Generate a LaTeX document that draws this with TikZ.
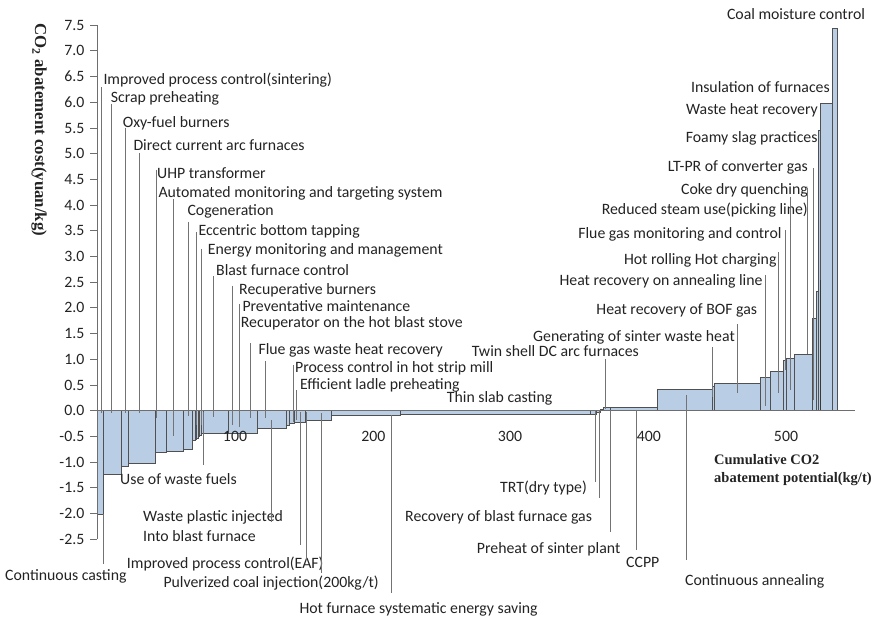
\documentclass[tikz,border=0pt]{standalone}
\usepackage{fontspec}
\setmainfont{Carlito}
\newfontfamily\serifbold{Liberation Serif}
\definecolor{barblue}{RGB}{185,205,229}
\definecolor{bargray}{RGB}{80,80,80}
\definecolor{leadgray}{RGB}{115,115,115}
\definecolor{axisgray}{RGB}{110,110,110}
\definecolor{txt}{RGB}{35,35,35}
\begin{document}
\begin{tikzpicture}[x=1pt,y=-1pt,
  bar/.style={fill=barblue,draw=bargray,line width=0.6pt},
  lead/.style={draw=leadgray,line width=0.9pt},
  lbl/.style={font=\fontsize{15.8}{18}\selectfont,inner sep=0pt,text=txt},
  lw/.style={lbl,anchor=base west},
  le/.style={lbl,anchor=base east},
  ticklbl/.style={font=\fontsize{15.8}{18}\selectfont,inner sep=0pt,text=txt},
  axtitle/.style={font=\serifbold\bfseries\fontsize{14.5}{16}\selectfont,inner sep=0pt,text=txt,anchor=base west}]
\useasboundingbox (0,0) rectangle (880,617);

% ---------- bars (negative) ----------
\foreach \a/\b/\c in {97.5/103.3/514, 103.3/121/474.5, 121/128.3/466, 128.3/155/463.3,
  155/166/452.7, 166/183.3/451.5, 183.3/192.7/449, 192.7/195/440, 195/196.5/439,
  196.5/198/438, 198/199.5/436, 199.5/201/435, 201/203.3/433.5, 203.3/228/433,
  228/257.3/433, 257.3/286.7/428.5, 286.7/289.5/425, 289.5/294/423.5, 294/305/422.7,
  305/331.7/420.3, 331.7/400/415.7, 400/590/414.5, 590/596.7/414, 596.7/600/412}
  \draw[bar] (\a,410.5) rectangle (\b,\c);
% ---------- bars (positive) ----------
\foreach \a/\b/\c in {600/603/409, 603/610/407.7, 610/657.3/407.3, 657.3/712.7/389.7,
  712.7/714/386, 714/760/383.7, 760/770/377.7, 770/783.5/371, 783.5/786.3/360,
  786.3/794.5/358.5, 794.5/812.5/354.3, 812.5/816/318.3, 816/818.3/291.7,
  818.3/820.5/130, 820.5/832/103.8, 832/837/28.3}
  \draw[bar] (\a,410.5) rectangle (\b,\c);

% ---------- axes ----------
\coordinate (yaxT) at (97,25);
\coordinate (yaxB) at (97,539.2);
\coordinate (xaxL) at (97,410.5);
\coordinate (xaxR) at (855,410.5);
\draw[axisgray,line width=0.9pt] (yaxT) -- (yaxB);
\draw[axisgray,line width=0.9pt] (xaxL) -- (xaxR);
\foreach \v/\t in {7.5/7.5,7.0/7.0,6.5/6.5,6.0/6.0,5.5/5.5,5.0/5.0,4.5/4.5,4.0/4.0,
  3.5/3.5,3.0/3.0,2.5/2.5,2.0/2.0,1.5/1.5,1.0/1.0,0.5/0.5,0/0.0,-0.5/-0.5,-1.0/-1.0,
  -1.5/-1.5,-2.0/-2.0,-2.5/-2.5}{
  \draw[axisgray,line width=0.9pt] (90,{410.7-51.4*\v}) -- (97,{410.7-51.4*\v});
  \node[ticklbl,anchor=east] (yt\t) at (84.5,{410.7-51.4*\v}) {\t};
}
\foreach \x/\t in {235/100,373.3/200,510/300,648.8/400,786/500}
  \node[ticklbl,anchor=base] (xt\t) at (\x,441.7) {\t};

\node[font=\serifbold\bfseries\fontsize{16.8}{18}\selectfont,inner sep=0pt,text=txt,rotate=-90] (ytitle) at (39,130) {CO\textsubscript{2} abatement cost(yuan/kg)};
\node[axtitle] (cA) at (714,464.3) {Cumulative CO2};
\node[axtitle] (cB) at (714,482.3) {abatement potential(kg/t)};

% ---------- labels: upper left ----------
\node[lw] (lA) at (103.3,85) {Improved process control(sintering)};
\node[lw] (lB) at (110.7,102.7) {Scrap preheating};
\node[lw] (lC) at (122.7,127.7) {Oxy-fuel burners};
\node[lw] (lD) at (133.3,151) {Direct current arc furnaces};
\node[lw] (lE) at (157,179) {UHP transformer};
\node[lw] (lF) at (158.3,197.7) {Automated monitoring and targeting system};
\node[lw] (lG) at (187.3,215.7) {Cogeneration};
\node[lw] (lH) at (198.3,235.7) {Eccentric bottom tapping};
\node[lw] (lI) at (207.7,255) {Energy monitoring and management};
\node[lw] (lJ) at (216,276) {Blast furnace control};
\node[lw] (lK) at (239,295) {Recuperative burners};
\node[lw] (lL) at (242.3,311.7) {Preventative maintenance};
\node[lw] (lM) at (240.7,327.7) {Recuperator on the hot blast stove};
\node[lw] (lN) at (258.3,354.3) {Flue gas waste heat recovery};
\node[lw] (lO) at (295,372.3) {Process control in hot strip mill};
\node[lw] (lP) at (300,389) {Efficient ladle preheating};
\node[lw] (lQ) at (446.7,402.3) {Thin slab casting};
\node[lw] (lR) at (471.7,356.7) {Twin shell DC arc furnaces};
\node[lw] (lS) at (533,341.7) {Generating of sinter waste heat};

% ---------- labels: right ----------
\node[lbl,anchor=base] (rA) at (796,20) {Coal moisture control};
\node[le] (rB) at (830,92.3) {Insulation of furnaces};
\node[le] (rC) at (818,114.3) {Waste heat recovery};
\node[le] (rD) at (817.7,142.7) {Foamy slag practices};
\node[le] (rE) at (808,171.7) {LT-PR of converter gas};
\node[le] (rF) at (808,194.3) {Coke dry quenching};
\node[le] (rG) at (808,215) {Reduced steam use(picking line)};
\node[le] (rH) at (781.7,239) {Flue gas monitoring and control};
\node[le] (rI) at (776.7,265) {Hot rolling Hot charging};
\node[le] (rJ) at (762.7,285.7) {Heat recovery on annealing line};
\node[le] (rK) at (757.3,315) {Heat recovery of BOF gas};

% ---------- labels: bottom ----------
\node[lw] (bA) at (120,484) {Use of waste fuels};
\node[lw] (bB) at (143,521.7) {Waste plastic injected};
\node[lw] (bC) at (143,541) {Into blast furnace};
\node[lw] (bD) at (5,580.7) {Continuous casting};
\node[lw] (bE) at (126.7,568.3) {Improved process control(EAF)};
\node[lw] (bF) at (163.3,587.3) {Pulverized coal injection(200kg/t)};
\node[lw] (bG) at (299.3,613.5) {Hot furnace systematic energy saving};
\node[lw] (bH) at (500,492.3) {TRT(dry type)};
\node[lw] (bI) at (405,521.7) {Recovery of blast furnace gas};
\node[lw] (bJ) at (476.7,553.3) {Preheat of sinter plant};
\node[lw] (bK) at (626,567.7) {CCPP};
\node[lw] (bL) at (685,585) {Continuous annealing};

% ---------- leader lines ----------
\foreach \n/\x/\t/\b in {
  1/101.7/87/413, 2/111.7/104/413, 3/125.7/128/413, 4/139/153/413, 5/156.7/170/418,
  6/173.3/199/436, 7/188.3/222/416, 8/196/232/425, 9/201/249/425, 10/213.3/276/417,
  11/232.3/286/425, 12/239.3/304/427, 13/250.7/343/418, 14/265.7/361/418,
  15/293.3/365/421.7, 16/296.5/390/420,
  17/813.3/168/400, 18/807.3/188/354, 19/790.7/197/390, 20/785/230/370,
  21/778.3/252/393, 22/765/275/406, 23/737.7/324/393, 24/712.7/347/397, 25/605/359/409,
  26/103.3/514/564, 27/203.3/412/465, 28/271.7/420/521.7, 29/300.7/412/545,
  30/306/412/560, 31/321.7/413/573, 32/391/415/593, 33/595/410/481.7,
  34/599.3/410/498.3, 35/610/410/531.7, 36/636/410/550, 37/686/395/560}{
  \coordinate (lt\n) at (\x,\t);
  \coordinate (lb\n) at (\x,\b);
  \draw[lead] (lt\n) -- (lb\n);
}
\coordinate (dk1) at (820.3,280);
\coordinate (dk2) at (820.3,410);
\draw[bargray!70!black,line width=1pt] (dk1) -- (dk2);
\end{tikzpicture}
\end{document}
